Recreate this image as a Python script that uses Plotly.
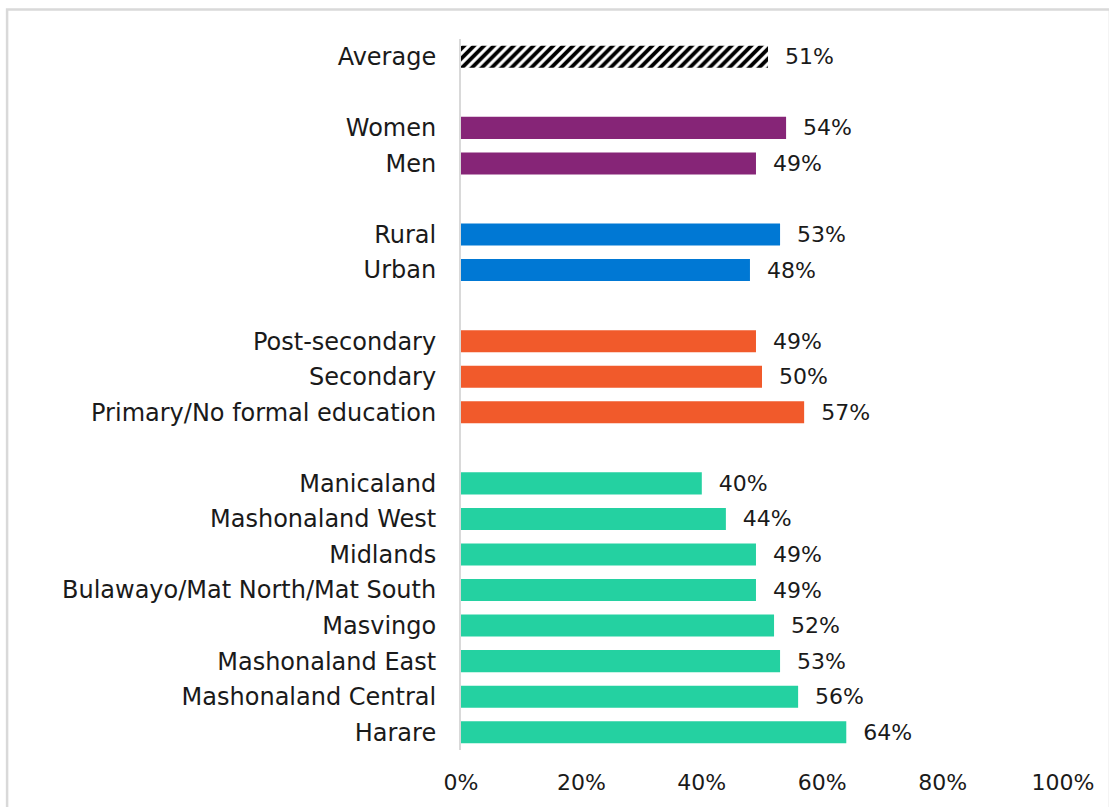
import plotly.graph_objects as go

# Rows from top to bottom; blank strings act as spacer rows between groups
categories = [
    "Average", " ",
    "Women", "Men", "  ",
    "Rural", "Urban", "   ",
    "Post-secondary", "Secondary", "Primary/No formal education", "    ",
    "Manicaland", "Mashonaland West", "Midlands", "Bulawayo/Mat North/Mat South",
    "Masvingo", "Mashonaland East", "Mashonaland Central", "Harare",
]

avg_labels = ["Average"]
avg_values = [51]

gender_labels = ["Women", "Men"]
gender_values = [54, 49]

area_labels = ["Rural", "Urban"]
area_values = [53, 48]

edu_labels = ["Post-secondary", "Secondary", "Primary/No formal education"]
edu_values = [49, 50, 57]

region_labels = ["Manicaland", "Mashonaland West", "Midlands", "Bulawayo/Mat North/Mat South",
                 "Masvingo", "Mashonaland East", "Mashonaland Central", "Harare"]
region_values = [40, 44, 49, 49, 52, 53, 56, 64]

x_ticks = [0, 20, 40, 60, 80, 100]
x_tick_labels = ["0%", "20%", "40%", "60%", "80%", "100%"]

FONT = "Century Gothic, DejaVu Sans, sans-serif"
TEXT_COLOR = "#1a1a1a"
NBSP = "\u00a0"

fig = go.Figure()


def add_group(labels, values, color, pattern=None):
    marker = dict(color=color, line=dict(width=0))
    if pattern:
        marker = dict(color="white", line=dict(width=0),
                      pattern=dict(shape="/", fgcolor="#000000", bgcolor="white",
                                   fgopacity=1, fillmode="replace",
                                   size=7, solidity=0.55))
    fig.add_trace(go.Bar(
        y=labels, x=values, orientation="h", marker=marker, width=0.62,
        text=[f"{NBSP * 2}{v}%" for v in values], textposition="outside",
        constraintext="none", cliponaxis=False,
        textfont=dict(family=FONT, size=22, color=TEXT_COLOR),
        showlegend=False, hoverinfo="skip",
    ))


add_group(avg_labels, avg_values, "#000000", pattern=True)
add_group(gender_labels, gender_values, "#862577")
add_group(area_labels, area_values, "#0078d4")
add_group(edu_labels, edu_values, "#f15a2b")
add_group(region_labels, region_values, "#24d1a1")

# Light frame around the chart
fig.add_shape(type="rect", xref="paper", yref="paper",
              x0=-0.754, x1=1.078, y0=-0.2, y1=1.0415,
              line=dict(color="#d9d9d9", width=2.5), fillcolor="rgba(0,0,0,0)",
              layer="below")

fig.update_layout(
    width=1109, height=807,
    margin=dict(l=461, r=46, t=39, b=55),
    paper_bgcolor="white", plot_bgcolor="white",
    font=dict(family=FONT, size=24, color=TEXT_COLOR),
    bargap=0.38,
    xaxis=dict(range=[0, 100], tickvals=x_ticks, ticktext=x_tick_labels,
               showgrid=False, zeroline=False, showline=False,
               tickfont=dict(family=FONT, size=22, color=TEXT_COLOR),
               ticklabelstandoff=17, fixedrange=True),
    yaxis=dict(type="category", categoryorder="array", categoryarray=categories,
               autorange="reversed", showgrid=False, zeroline=False,
               showline=True, linecolor="#d9d9d9", linewidth=2,
               tickfont=dict(family=FONT, size=24, color=TEXT_COLOR),
               ticklabelstandoff=18, fixedrange=True),
)

fig.write_html("out.html")
